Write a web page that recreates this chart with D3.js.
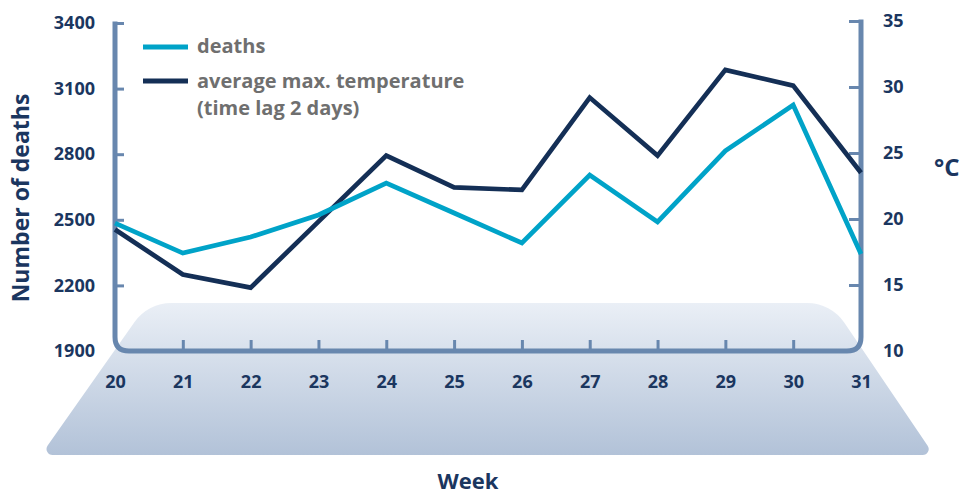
<!DOCTYPE html>
<html>
<head>
<meta charset="utf-8">
<script src="https://cdn.jsdelivr.net/npm/d3@7"></script>
<style>
  html, body { margin: 0; padding: 0; background: #ffffff; }
  svg { display: block; font-family: "Open Sans", "Noto Sans", sans-serif; }
</style>
</head>
<body>
<svg id="chart" width="960" height="494"></svg>
<script>
// ---- data ----
const weeks = [20, 21, 22, 23, 24, 25, 26, 27, 28, 29, 30, 31];
const deaths = [2485, 2348, 2421, 2522, 2668, 2531, 2394, 2705, 2490, 2815, 3025, 2344];
const temperature = [19.2, 15.8, 14.8, 19.8, 24.8, 22.4, 22.2, 29.2, 24.8, 31.3, 30.1, 23.5];
const deathTicks = [1900, 2200, 2500, 2800, 3100, 3400];
const tempTicks = [10, 15, 20, 25, 30, 35];
const seriesNames = ["deaths", "average max. temperature", "(time lag 2 days)"];

// ---- styles ----
const axisColor = "#6887ae";
const textColor = "#1b365f";
const cyan = "#00a3c8";
const navy = "#142f56";

const svg = d3.select("#chart");

const x = d3.scaleLinear().domain([20, 31]).range([115, 861]);
const yL = d3.scaleLinear().domain([1900, 3400]).range([351, 23]);
const yR = d3.scaleLinear().domain([10, 35]).range([351, 21]);

// ---- base platform ----
const defs = svg.append("defs");
const grad = defs.append("linearGradient").attr("id", "baseGrad")
  .attr("x1", 0).attr("y1", 0).attr("x2", 0).attr("y2", 1);
grad.append("stop").attr("offset", "0%").attr("stop-color", "#eaeff6");
grad.append("stop").attr("offset", "100%").attr("stop-color", "#b2c2d8");

const TL = [148, 303], TR = [831, 303], BR = [934, 455], BL = [41, 455];
const p = d3.path();
const mid = (a, b) => [(a[0] + b[0]) / 2, (a[1] + b[1]) / 2];
const start = mid(TL, TR);
p.moveTo(start[0], start[1]);
p.arcTo(TR[0], TR[1], BR[0], BR[1], 45);
p.arcTo(BR[0], BR[1], BL[0], BL[1], 6);
p.arcTo(BL[0], BL[1], TL[0], TL[1], 6);
p.arcTo(TL[0], TL[1], TR[0], TR[1], 45);
p.closePath();
svg.append("path").attr("d", p.toString()).attr("fill", "url(#baseGrad)");

// ---- axes frame (U shape) ----
const x0 = x(20), x1 = x(31), yb = yL(1900), r = 14;
const frame = d3.path();
frame.moveTo(x0, yL(3400) - 1.5);
frame.lineTo(x0, yb - r);
frame.quadraticCurveTo(x0, yb, x0 + r, yb);
frame.lineTo(x1 - r, yb);
frame.quadraticCurveTo(x1, yb, x1, yb - r);
frame.lineTo(x1, yR(35) - 1.5);
svg.append("path").attr("d", frame.toString())
  .attr("fill", "none").attr("stroke", axisColor).attr("stroke-width", 5);

function styleAxis(g) {
  g.select(".domain").remove();
  g.selectAll(".tick line").attr("stroke", axisColor).attr("stroke-width", 3);
  g.selectAll(".tick text").attr("fill", textColor)
    .attr("font-size", 18).attr("font-weight", 700)
    .attr("font-family", "'Open Sans', 'Noto Sans', sans-serif");
}

const leftAxis = svg.append("g").attr("transform", `translate(${x0},0)`)
  .call(d3.axisLeft(yL).tickValues(deathTicks).tickSize(-9).tickPadding(20).tickFormat(d3.format("d")));
styleAxis(leftAxis);
leftAxis.selectAll(".tick").filter(d => d === 1900).select("line").remove();

const rightAxis = svg.append("g").attr("transform", `translate(${x1},0)`)
  .call(d3.axisRight(yR).tickValues(tempTicks).tickSize(-12).tickPadding(22).tickFormat(d3.format("d")));
styleAxis(rightAxis);
rightAxis.selectAll(".tick").filter(d => d === 10).select("line").remove();

const bottomAxis = svg.append("g").attr("transform", `translate(0,${yb})`)
  .call(d3.axisBottom(x).tickValues(weeks).tickSize(-11).tickPadding(24).tickFormat(d3.format("d")));
styleAxis(bottomAxis);
bottomAxis.selectAll(".tick").filter(d => d === 20 || d === 31).select("line").remove();

// ---- lines ----
const deathLine = d3.line().x((d, i) => x(weeks[i])).y(d => yL(d));
const tempLine = d3.line().x((d, i) => x(weeks[i])).y(d => yR(d));

svg.append("path").datum(temperature).attr("d", tempLine)
  .attr("fill", "none").attr("stroke", navy).attr("stroke-width", 4.7)
  .attr("stroke-linejoin", "miter");
svg.append("path").datum(deaths).attr("d", deathLine)
  .attr("fill", "none").attr("stroke", cyan).attr("stroke-width", 4.7)
  .attr("stroke-linejoin", "miter");

// ---- legend ----
const legend = svg.append("g");
legend.append("line").attr("x1", 143).attr("x2", 188).attr("y1", 47).attr("y2", 47)
  .attr("stroke", cyan).attr("stroke-width", 5);
legend.append("line").attr("x1", 143).attr("x2", 188).attr("y1", 81).attr("y2", 81)
  .attr("stroke", navy).attr("stroke-width", 5);
const legendText = [[seriesNames[0], 53], [seriesNames[1], 88], [seriesNames[2], 115]];
legend.selectAll("text.lg").data(legendText).enter().append("text")
  .attr("class", "lg")
  .attr("x", 197).attr("y", d => d[1])
  .attr("fill", "#6f6f6f").attr("font-size", 20).attr("font-weight", 700)
  .text(d => d[0]);

// ---- axis titles ----
svg.append("text")
  .attr("transform", "translate(29,198) rotate(-90)")
  .attr("text-anchor", "middle")
  .attr("fill", textColor).attr("font-size", 23).attr("font-weight", 700)
  .text("Number of deaths");

svg.append("text")
  .attr("x", 468).attr("y", 489)
  .attr("text-anchor", "middle")
  .attr("fill", textColor).attr("font-size", 22).attr("font-weight", 700)
  .text("Week");

svg.append("text")
  .attr("x", 934).attr("y", 176)
  .attr("fill", textColor).attr("font-size", 24).attr("font-weight", 700)
  .text("°C");
</script>
</body>
</html>
